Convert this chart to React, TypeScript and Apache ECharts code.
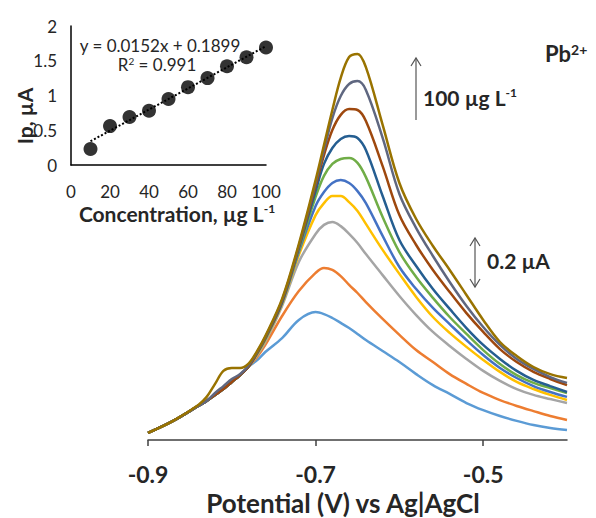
import React, { useEffect, useRef } from "react";
import * as echarts from "echarts";

// Potential grid (V) shared by all voltammograms
const potentials = [-0.9, -0.87, -0.84, -0.83, -0.82, -0.81, -0.8, -0.79, -0.78, -0.77, -0.76, -0.74, -0.72, -0.7, -0.69, -0.68, -0.67, -0.66, -0.65, -0.64, -0.62, -0.6, -0.58, -0.56, -0.54, -0.52, -0.5, -0.48, -0.46, -0.44, -0.42, -0.4];

// Current (µA, arbitrary offset) for 10..100 µg/L
const c10 = [0.029, 0.078, 0.139, 0.159, 0.184, 0.208, 0.237, 0.265, 0.3, 0.325, 0.359, 0.416, 0.49, 0.522, 0.514, 0.498, 0.478, 0.457, 0.433, 0.408, 0.363, 0.318, 0.269, 0.224, 0.188, 0.151, 0.122, 0.098, 0.078, 0.061, 0.049, 0.041];
const c20 = [0.029, 0.078, 0.139, 0.159, 0.184, 0.208, 0.237, 0.265, 0.3, 0.338, 0.388, 0.506, 0.608, 0.682, 0.702, 0.694, 0.669, 0.633, 0.6, 0.563, 0.494, 0.429, 0.367, 0.318, 0.269, 0.229, 0.192, 0.163, 0.139, 0.118, 0.098, 0.082];
const c30 = [0.029, 0.078, 0.139, 0.159, 0.184, 0.208, 0.237, 0.265, 0.3, 0.345, 0.4, 0.547, 0.727, 0.841, 0.878, 0.89, 0.873, 0.841, 0.804, 0.759, 0.673, 0.588, 0.51, 0.441, 0.384, 0.331, 0.282, 0.241, 0.208, 0.184, 0.167, 0.151];
const c40 = [0.029, 0.078, 0.139, 0.159, 0.184, 0.208, 0.237, 0.265, 0.3, 0.349, 0.408, 0.555, 0.755, 0.918, 0.967, 0.996, 0.996, 0.971, 0.935, 0.882, 0.776, 0.678, 0.584, 0.502, 0.437, 0.38, 0.327, 0.278, 0.237, 0.208, 0.184, 0.163];
const c50 = [0.029, 0.078, 0.139, 0.159, 0.184, 0.208, 0.237, 0.265, 0.3, 0.352, 0.412, 0.559, 0.767, 0.955, 1.012, 1.049, 1.061, 1.049, 1.016, 0.967, 0.833, 0.706, 0.616, 0.539, 0.473, 0.408, 0.347, 0.294, 0.253, 0.22, 0.196, 0.176];
const c60 = [0.029, 0.078, 0.139, 0.159, 0.184, 0.208, 0.237, 0.265, 0.3, 0.352, 0.412, 0.563, 0.776, 0.992, 1.078, 1.127, 1.147, 1.151, 1.131, 1.073, 0.91, 0.767, 0.665, 0.58, 0.502, 0.433, 0.367, 0.31, 0.265, 0.233, 0.212, 0.192];
const c70 = [0.029, 0.078, 0.139, 0.159, 0.184, 0.208, 0.237, 0.265, 0.3, 0.355, 0.416, 0.563, 0.784, 1.016, 1.127, 1.192, 1.229, 1.241, 1.233, 1.184, 0.996, 0.816, 0.71, 0.616, 0.535, 0.457, 0.388, 0.331, 0.282, 0.245, 0.22, 0.196];
const c80 = [0.029, 0.078, 0.139, 0.159, 0.184, 0.208, 0.237, 0.265, 0.3, 0.355, 0.416, 0.567, 0.788, 1.037, 1.163, 1.265, 1.327, 1.351, 1.347, 1.302, 1.118, 0.918, 0.796, 0.694, 0.604, 0.518, 0.441, 0.371, 0.318, 0.278, 0.249, 0.224];
const c90 = [0.029, 0.078, 0.139, 0.159, 0.192, 0.22, 0.249, 0.269, 0.304, 0.358, 0.42, 0.571, 0.792, 1.049, 1.184, 1.314, 1.404, 1.453, 1.465, 1.429, 1.233, 1.004, 0.865, 0.751, 0.645, 0.547, 0.461, 0.388, 0.331, 0.29, 0.257, 0.233];
const c100 = [0.029, 0.078, 0.143, 0.176, 0.229, 0.282, 0.294, 0.294, 0.312, 0.362, 0.424, 0.576, 0.8, 1.061, 1.204, 1.347, 1.478, 1.563, 1.576, 1.522, 1.286, 1.049, 0.902, 0.792, 0.694, 0.592, 0.49, 0.4, 0.343, 0.298, 0.269, 0.253];

const curves = [c10, c20, c30, c40, c50, c60, c70, c80, c90, c100];
const curveColors = ["#5B9BD5", "#ED7D31", "#A5A5A5", "#FFC000", "#4472C4", "#70AD47", "#255E91", "#9E480E", "#5F6780", "#997300"];

// Calibration inset
const concentrations = [10, 20, 30, 40, 50, 60, 70, 80, 90, 100];
const peakCurrents = [0.23, 0.56, 0.69, 0.78, 0.95, 1.12, 1.25, 1.42, 1.55, 1.69];
const trendX = [10, 100];
const trendY = [0.342, 1.71];

const mainTicks = [-0.9, -0.7, -0.5];

const FONT = "Lato";
const TXT = "#262626";

export default function App() {
  const ref = useRef<HTMLDivElement>(null);
  useEffect(() => {
    if (!ref.current) return;
    const chart = echarts.init(ref.current, undefined, { renderer: "svg" });
    const lineSeries = curves.map((c, i) => ({
      type: "line",
      xAxisIndex: 0,
      yAxisIndex: 0,
      data: c.map((v, j) => [potentials[j], v]),
      showSymbol: false,
      smooth: 0.35,
      lineStyle: { color: curveColors[i], width: 2.5 },
      itemStyle: { color: curveColors[i] },
      z: 2 + i,
    }));
    const arrowStyle = { stroke: "#555", lineWidth: 1.2, fill: "none" };
    chart.setOption({
      animation: false,
      textStyle: { fontFamily: FONT },
      grid: [
        { left: 148, top: 23.5, width: 419, height: 416.5 },
        { left: 71, top: 26, width: 195, height: 139 },
      ],
      xAxis: [
        {
          gridIndex: 0,
          type: "value",
          min: -0.9,
          max: -0.4,
          interval: 0.1,
          axisLine: { lineStyle: { color: "#404040", width: 1.5 } },
          axisTick: { customValues: mainTicks, length: 6, lineStyle: { color: "#404040", width: 1.5 } },
          axisLabel: {
            customValues: mainTicks,
            color: TXT,
            fontWeight: "bold",
            fontSize: 23,
            margin: 22,
            fontFamily: FONT,
            formatter: (v: number) => v.toFixed(1),
          },
          splitLine: { show: false },
        },
        {
          gridIndex: 1,
          type: "value",
          min: 0,
          max: 100,
          interval: 20,
          axisLine: { lineStyle: { color: "#000", width: 1.5 } },
          axisTick: { show: false },
          axisLabel: { color: TXT, fontSize: 17, margin: 18, fontFamily: FONT },
          splitLine: { show: false },
        },
      ],
      yAxis: [
        { gridIndex: 0, type: "value", min: 0, max: 1.7, show: false, splitLine: { show: false } },
        {
          gridIndex: 1,
          type: "value",
          min: 0,
          max: 2,
          interval: 0.5,
          axisLine: { show: true, lineStyle: { color: "#000", width: 1.5 } },
          axisTick: { show: false },
          axisLabel: { color: TXT, fontSize: 17, margin: 14, fontFamily: FONT },
          splitLine: { show: false },
        },
      ],
      series: [
        ...lineSeries,
        {
          type: "line",
          xAxisIndex: 1,
          yAxisIndex: 1,
          data: trendX.map((x, i) => [x, trendY[i]]),
          showSymbol: false,
          lineStyle: { color: "#000", width: 2, type: "dotted" },
          z: 20,
        },
        {
          type: "scatter",
          xAxisIndex: 1,
          yAxisIndex: 1,
          data: concentrations.map((x, i) => [x, peakCurrents[i]]),
          symbolSize: 14,
          itemStyle: { color: "#000" },
          z: 21,
        },
      ],
      graphic: [
        {
          type: "text",
          x: 343,
          y: 503,
          style: { text: "Potential (V) vs Ag|AgCl", font: `bold 26px ${FONT}`, fill: TXT, align: "center", verticalAlign: "middle" },
        },
        {
          type: "text",
          x: 177,
          y: 213,
          style: {
            text: "{a|Concentration, µg L}{s|-1}",
            align: "center",
            verticalAlign: "middle",
            rich: {
              a: { font: `bold 21px ${FONT}`, fill: TXT },
              s: { font: `bold 12px ${FONT}`, fill: TXT, verticalAlign: "top" },
            },
          },
        },
        {
          type: "text",
          x: 24,
          y: 116,
          rotation: Math.PI / 2,
          style: { text: "Ip, µA", font: `bold 21px ${FONT}`, fill: TXT, align: "center", verticalAlign: "middle" },
        },
        {
          type: "text",
          x: 160,
          y: 45,
          style: { text: "y = 0.0152x + 0.1899", font: `17px ${FONT}`, fill: TXT, align: "center", verticalAlign: "middle" },
        },
        {
          type: "text",
          x: 157,
          y: 64,
          style: {
            text: "{a|R}{s|2}{a| = 0.991}",
            align: "center",
            verticalAlign: "middle",
            rich: {
              a: { font: `17px ${FONT}`, fill: TXT },
              s: { font: `10px ${FONT}`, fill: TXT, verticalAlign: "top" },
            },
          },
        },
        {
          type: "text",
          x: 545,
          y: 53,
          style: {
            text: "{a|Pb}{s|2+}",
            align: "left",
            verticalAlign: "middle",
            rich: {
              a: { font: `bold 22px ${FONT}`, fill: TXT },
              s: { font: `bold 14px ${FONT}`, fill: TXT, verticalAlign: "top" },
            },
          },
        },
        {
          type: "text",
          x: 423,
          y: 97,
          style: {
            text: "{a|100 µg L}{s|-1}",
            align: "left",
            verticalAlign: "middle",
            rich: {
              a: { font: `bold 21px ${FONT}`, fill: TXT },
              s: { font: `bold 12px ${FONT}`, fill: TXT, verticalAlign: "top" },
            },
          },
        },
        {
          type: "text",
          x: 487,
          y: 260,
          style: { text: "0.2 µA", font: `bold 21px ${FONT}`, fill: TXT, align: "left", verticalAlign: "middle" },
        },
        { type: "line", shape: { x1: 416, y1: 120, x2: 416, y2: 58 }, style: arrowStyle },
        { type: "polyline", shape: { points: [[411, 66], [416, 58], [421, 66]] }, style: arrowStyle },
        { type: "line", shape: { x1: 475, y1: 238, x2: 475, y2: 287 }, style: arrowStyle },
        { type: "polyline", shape: { points: [[470, 246], [475, 238], [480, 246]] }, style: arrowStyle },
        { type: "polyline", shape: { points: [[470, 279], [475, 287], [480, 279]] }, style: arrowStyle },
      ],
    });
    return () => chart.dispose();
  }, []);
  return <div ref={ref} style={{ position: "fixed", left: 0, top: 0, width: 596, height: 518, background: "#fff" }} />;
}
